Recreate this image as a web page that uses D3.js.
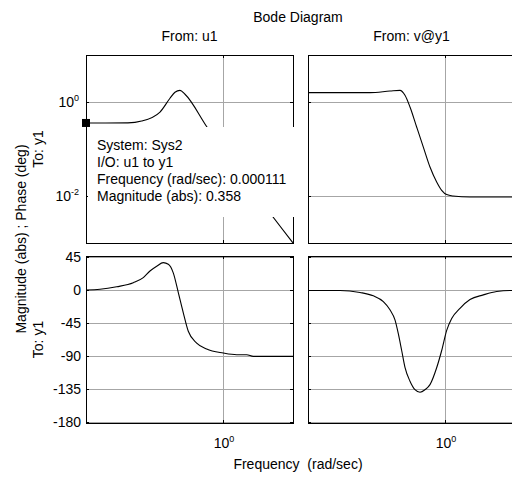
<!DOCTYPE html>
<html>
<head>
<meta charset="utf-8">
<script src="https://cdn.jsdelivr.net/npm/d3@7"></script>
<style>
  body { margin: 0; background: #fff; }
  svg { font-family: Arial, "Liberation Sans", sans-serif; }
</style>
</head>
<body>
<div id="chart"></div>
<script>
// tick values
const magTicks = [1e-2, 1e0];
const phaseTicks = [-180, -135, -90, -45, 0, 45];
const freqTicks = [1e0];
const colTitles = ["From: u1", "From: v@y1"];
const rowTitles = ["To: y1", "To: y1"];

// From u1 to y1
const uMagFreq = [1.11e-4, 1.8e-3, 4.5e-3, 0.0152, 0.0295, 0.0411, 0.0574, 0.08, 0.345, 105];
const uMag     = [0.358, 0.36, 0.394, 0.612, 1.2, 1.61, 1.77, 1.46, 0.294, 0.001];
const uPhFreq  = [1.11e-4, 2.81e-4, 8.53e-4, 2.58e-3, 5.0e-3, 7.8e-3, 0.0122, 0.0189, 0.0264, 0.0367, 0.0513, 0.0715, 0.0996, 0.174, 0.338, 1.02, 2.48, 4.83, 7.5, 105];
const uPhase   = [0.5, 1.5, 5, 10.5, 17.4, 26.5, 33, 38, 35.7, 24, -3, -30.6, -55.8, -71.8, -80, -85.5, -87.8, -87.8, -90, -90];

// From v@y1 to y1
const vMagFreq = [1.11e-4, 6.84e-3, 0.0258, 0.0502, 0.07, 0.0977, 0.152, 0.237, 0.369, 0.575, 0.803, 1.12, 1.70, 5.27, 105];
const vMag     = [1.585, 1.585, 1.71, 1.77, 1.39, 0.783, 0.294, 0.110, 0.0414, 0.0199, 0.0132, 0.0107, 0.0100, 0.0095, 0.0095];
const vPhFreq  = [1.11e-4, 9.3e-4, 3.52e-3, 8.5e-3, 0.0166, 0.0258, 0.036, 0.0449, 0.0562, 0.07, 0.0977, 0.136, 0.19, 0.265, 0.369, 0.575, 0.803, 1.12, 1.56, 2.71, 5.27, 12.8, 31, 84, 105];
const vPhase   = [0, 0, -2.8, -7.4, -15.3, -26.4, -40.3, -59, -82, -105, -124, -135.5, -139, -135.5, -128.6, -105.6, -82, -54.5, -38.3, -24.4, -12.5, -6.1, -1.4, 0, 0];

// datatip
const tipFreq = 1.11e-4;
const tipMag = 0.358;
const tipLines = ["System: Sys2", "I/O: u1 to y1", "Frequency (rad/sec): 0.000111", "Magnitude (abs): 0.358"];

const W = 512, H = 480;
const colX = [86, 308], plotW = 207;
const magY = 55, magH = 188;
const phY = 256, phH = 167;

const svg = d3.select("#chart").append("svg")
  .attr("width", W).attr("height", H);

const x = d3.scaleLog().domain([1.11e-4, 105]).range([0, plotW]);
const yMag = d3.scaleLog().domain([1e-3, 1e1]).range([magH, 0]);
const yPh = d3.scaleLinear().domain([-181, 47]).range([phH, 0]);

const curves = [
  [{ f: uMagFreq, v: uMag }, { f: uPhFreq, v: uPhase }],
  [{ f: vMagFreq, v: vMag }, { f: vPhFreq, v: vPhase }]
];

function panel(col, row) {
  const top = row === 0 ? magY : phY;
  const h = row === 0 ? magH : phH;
  const y = row === 0 ? yMag : yPh;
  const ticks = row === 0 ? magTicks : phaseTicks;
  const g = svg.append("g").attr("transform", `translate(${colX[col]},${top})`);
  const id = `clip${col}${row}`;
  g.append("clipPath").attr("id", id).append("rect").attr("width", plotW).attr("height", h);

  // grid
  g.selectAll(".hg").data(ticks).enter().append("line")
    .attr("x1", 0).attr("x2", plotW)
    .attr("y1", d => Math.round(y(d)) + 0.5).attr("y2", d => Math.round(y(d)) + 0.5)
    .attr("stroke", "#a6a6a6");
  g.selectAll(".vg").data(freqTicks).enter().append("line")
    .attr("y1", 0).attr("y2", h)
    .attr("x1", d => Math.round(x(d)) + 0.5).attr("x2", d => Math.round(x(d)) + 0.5)
    .attr("stroke", "#a6a6a6");

  // curve
  const c = curves[col][row];
  const pts = c.f.map((f, i) => [f, c.v[i]]);
  g.append("path").datum(pts)
    .attr("clip-path", `url(#${id})`)
    .attr("fill", "none").attr("stroke", "#000").attr("stroke-width", 1.1)
    .attr("d", d3.line().x(d => x(d[0])).y(d => y(d[1])).curve(d3.curveMonotoneX));

  // ticks inward on all sides
  ticks.forEach(t => {
    const yy = Math.round(y(t)) + 0.5;
    g.append("line").attr("x1", 0).attr("x2", 3).attr("y1", yy).attr("y2", yy).attr("stroke", "#000");
    g.append("line").attr("x1", plotW - 3).attr("x2", plotW).attr("y1", yy).attr("y2", yy).attr("stroke", "#000");
  });
  freqTicks.forEach(t => {
    const xx = Math.round(x(t)) + 0.5;
    g.append("line").attr("x1", xx).attr("x2", xx).attr("y1", 0).attr("y2", 3).attr("stroke", "#000");
    g.append("line").attr("x1", xx).attr("x2", xx).attr("y1", h - 3).attr("y2", h).attr("stroke", "#000");
  });

  // frame
  g.append("rect").attr("x", 0.5).attr("y", 0.5).attr("width", plotW).attr("height", h)
    .attr("fill", "none").attr("stroke", "#000");

  // y tick labels (left column only)
  if (col === 0) {
    ticks.forEach(t => {
      const yy = y(t);
      if (row === 0) {
        const e = Math.round(Math.log10(t));
        const tx = g.append("text").attr("x", -7).attr("y", yy + 5)
          .attr("text-anchor", "end").attr("font-size", 14);
        tx.append("tspan").text("10");
        tx.append("tspan").attr("dy", -6).attr("font-size", 9).text(e);
      } else {
        g.append("text").attr("x", -5).attr("y", yy + 5)
          .attr("text-anchor", "end").attr("font-size", 14).text(t);
      }
    });
  }
  // x tick labels (bottom row)
  if (row === 1) {
    freqTicks.forEach(t => {
      const tx = g.append("text").attr("x", x(t) + 1).attr("y", h + 25)
        .attr("text-anchor", "middle").attr("font-size", 14);
      tx.append("tspan").text("10");
      tx.append("tspan").attr("dy", -6).attr("font-size", 9).text(Math.round(Math.log10(t)));
    });
  }
  return g;
}

for (let c = 0; c < 2; c++) for (let r = 0; r < 2; r++) panel(c, r);

// titles
svg.append("text").attr("x", 298).attr("y", 22).attr("text-anchor", "middle")
  .attr("font-size", 14).text("Bode Diagram");
colTitles.forEach((t, i) => {
  svg.append("text").attr("x", colX[i] + plotW / 2).attr("y", 41)
    .attr("text-anchor", "middle").attr("font-size", 14).text(t);
});
svg.append("text")
  .attr("transform", `translate(26,${(magY + phY + phH) / 2}) rotate(-90)`)
  .attr("text-anchor", "middle").attr("font-size", 14)
  .text("Magnitude (abs) ; Phase (deg)");
rowTitles.forEach((t, i) => {
  const cy = i === 0 ? magY + magH / 2 : phY + phH / 2;
  svg.append("text").attr("transform", `translate(43,${cy}) rotate(-90)`)
    .attr("text-anchor", "middle").attr("font-size", 14).text(t);
});
svg.append("text").attr("x", 298).attr("y", 469).attr("text-anchor", "middle")
  .attr("font-size", 14).style("white-space", "pre").text("Frequency  (rad/sec)");

// datatip
const tip = svg.append("g");
tip.append("rect").attr("x", 88).attr("y", 127).attr("width", 214).attr("height", 90).attr("fill", "#fff");
tip.append("rect")
  .attr("x", colX[0] + x(tipFreq) - 4).attr("y", magY + yMag(tipMag) - 4)
  .attr("width", 8).attr("height", 8).attr("fill", "#000");
tipLines.forEach((l, i) => {
  tip.append("text").attr("x", 97).attr("y", 150 + i * 17)
    .attr("font-size", 14).text(l);
});
</script>
</body>
</html>
